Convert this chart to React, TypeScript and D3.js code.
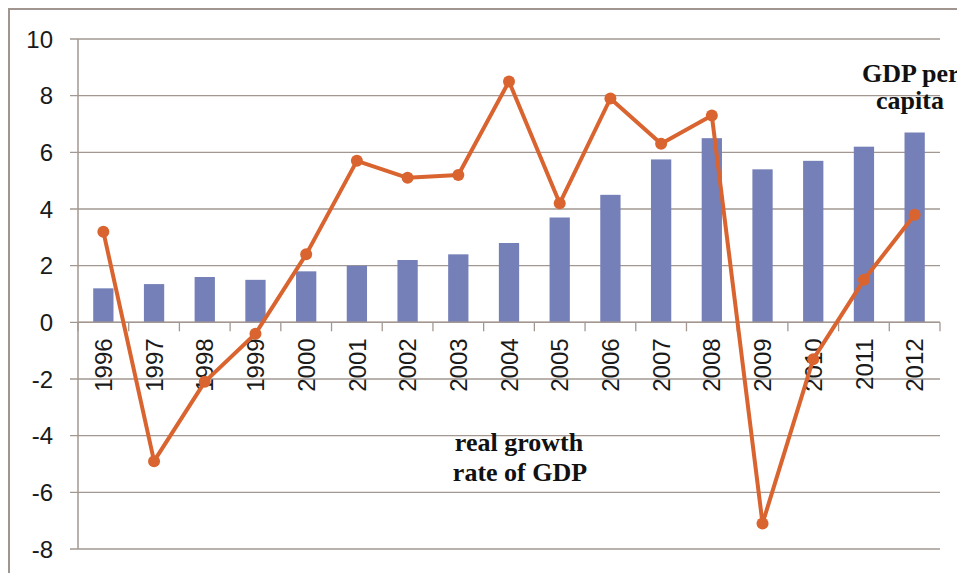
import React from "react";
import * as d3 from "d3";

const years = ["1996","1997","1998","1999","2000","2001","2002","2003","2004","2005","2006","2007","2008","2009","2010","2011","2012"];
const gdpPerCapita = [1.2,1.35,1.6,1.5,1.8,2.0,2.2,2.4,2.8,3.7,4.5,5.75,6.5,5.4,5.7,6.2,6.7];
const realGrowth = [3.2,-4.9,-2.1,-0.4,2.4,5.7,5.1,5.2,8.5,4.2,7.9,6.3,7.3,-7.1,-1.3,1.5,3.8];
const yTicks = [-8,-6,-4,-2,0,2,4,6,8,10];

export default function App() {
  const W = 957, H = 573;
  const left = 78, right = 940, top = 39, bottom = 549;
  const x = d3.scaleBand<string>().domain(years).range([left, right]).paddingInner(0).paddingOuter(0);
  const y = d3.scaleLinear().domain([-8, 10]).range([bottom, top]);
  const bw = x.bandwidth() * 0.4;
  const grid = "#a29891";
  const barColor = "#7680b8";
  const lineColor = "#d9642f";
  const lineGen = d3.line<number>()
    .x((_, i) => (x(years[i]) as number) + x.bandwidth() / 2)
    .y((d) => y(d));
  const boundaries = years.map((yr) => x(yr) as number).concat([right]);
  return (
    <svg width={W} height={H} style={{ position: "absolute", left: 0, top: 0, background: "#fff" }}>
      <rect x={9} y={9} width={1200} height={800} fill="#fff" stroke="#a0968f" strokeWidth={2} />
      {yTicks.map((t) => (
        <g key={t}>
          <line x1={70} x2={right} y1={y(t)} y2={y(t)} stroke={grid} strokeWidth={1.3} />
          <text x={53} y={y(t)} dy="0.36em" textAnchor="end" fontFamily="Liberation Sans, Arial, sans-serif" fontSize={24} fill="#1a1a1a">{t}</text>
        </g>
      ))}
      {years.map((yr, i) => {
        const v = gdpPerCapita[i];
        const cx = (x(yr) as number) + x.bandwidth() / 2;
        return <rect key={yr} x={cx - bw / 2} y={y(Math.max(0, v))} width={bw} height={Math.abs(y(v) - y(0))} fill={barColor} />;
      })}
      <line x1={left} x2={left} y1={top} y2={bottom} stroke={grid} strokeWidth={1.5} />
      <line x1={left} x2={right} y1={y(0)} y2={y(0)} stroke={grid} strokeWidth={1.5} />
      {boundaries.map((bx, i) => (
        <line key={i} x1={bx} x2={bx} y1={y(0)} y2={y(0) + 9} stroke={grid} strokeWidth={1.3} />
      ))}
      {years.map((yr) => {
        const cx = (x(yr) as number) + x.bandwidth() / 2;
        return (
          <text key={yr} transform={`translate(${cx},${y(0) + 16}) rotate(-90)`} dy="0.36em" textAnchor="end" fontFamily="Liberation Sans, Arial, sans-serif" fontSize={24} fill="#1a1a1a">{yr}</text>
        );
      })}
      <path d={lineGen(realGrowth) || ""} fill="none" stroke={lineColor} strokeWidth={4} strokeLinejoin="round" />
      {realGrowth.map((v, i) => (
        <circle key={i} cx={(x(years[i]) as number) + x.bandwidth() / 2} cy={y(v)} r={6} fill={lineColor} />
      ))}
      <g fontFamily="Liberation Serif, Times New Roman, serif" fontWeight="bold" fontSize={26} fill="#111">
        <text x={862} y={82}>GDP per</text>
        <text x={910} y={109} textAnchor="middle">capita</text>
        <text x={519} y={451} textAnchor="middle">real growth</text>
        <text x={520} y={481} textAnchor="middle">rate of GDP</text>
      </g>
    </svg>
  );
}
